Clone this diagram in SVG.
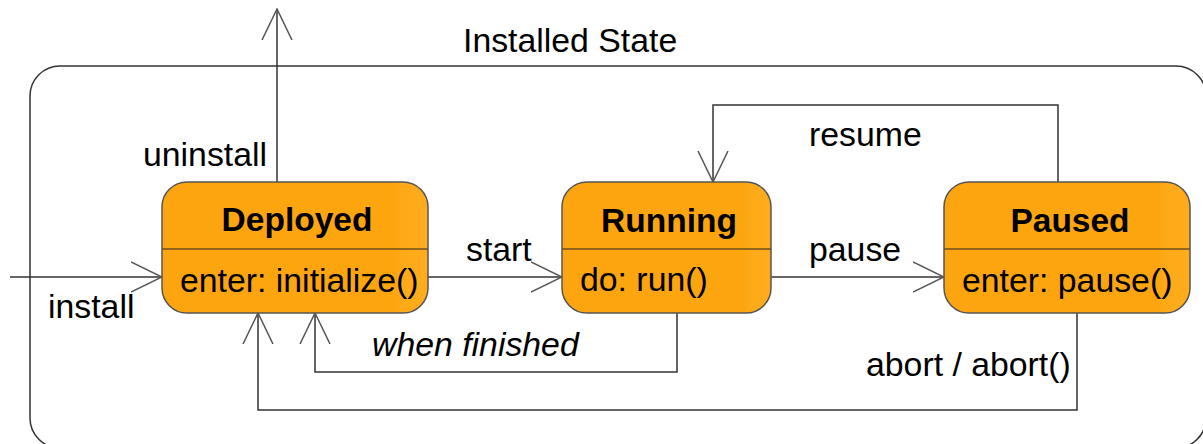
<svg xmlns="http://www.w3.org/2000/svg" width="1203" height="444" viewBox="0 0 1203 444">
  <defs>
    <linearGradient id="stateFill" x1="0" y1="0" x2="1" y2="0">
      <stop offset="0" stop-color="#FDA50F"/>
      <stop offset="0.87" stop-color="#FDA50F"/>
      <stop offset="0.9" stop-color="#FEA917"/>
      <stop offset="1" stop-color="#FEAC1E"/>
    </linearGradient>
    <marker id="open" viewBox="0 0 32 32" refX="31" refY="16" markerWidth="32" markerHeight="32" markerUnits="userSpaceOnUse" orient="auto">
      <path d="M0,1 L31,16 L0,31" fill="none" stroke="#555" stroke-width="1.5"/>
    </marker>
  </defs>
  <style>
    text { font-family: "Liberation Sans", Arial, sans-serif; font-size: 33.8px; fill: #000; }
    .title { font-weight: bold; text-anchor: middle; font-size: 33.5px; }
    .guard { font-style: italic; }
    .state { fill: url(#stateFill); stroke: #555; stroke-width: 1.5; }
    .divider { stroke: #6e4f1c; stroke-width: 1.5; }
    .edge { fill: none; stroke: #333; stroke-width: 1.5; marker-end: url(#open); }
    .frame { fill: none; stroke: #333; stroke-width: 1.5; }
  </style>
  <rect width="1203" height="444" fill="#fff"/>

  <!-- composite state frame -->
  <g id="installed-state">
    <rect class="frame" x="30" y="66" width="1176" height="382" rx="30" ry="30"/>
    <text x="463" y="52">Installed State</text>
  </g>

  <!-- transitions -->
  <g id="connectors">
    <path class="edge" d="M277,182 V9"/>
    <path class="edge" d="M10,277 H162"/>
    <path class="edge" d="M428,277 H562"/>
    <path class="edge" d="M771,277 H944"/>
    <path class="edge" d="M1058,182 V105 H713 V182"/>
    <path class="edge" d="M677,313 V372 H315 V313"/>
    <path class="edge" d="M1077,313 V410 H258 V313"/>
    <text x="143" y="166">uninstall</text>
    <text x="48" y="318">install</text>
    <text x="466" y="261">start</text>
    <text x="809" y="261">pause</text>
    <text x="809" y="146">resume</text>
    <text class="guard" x="372" y="356">when finished</text>
    <text x="866" y="376">abort / abort()</text>
  </g>

  <g id="deployed">
    <rect class="state" x="162" y="182" width="266" height="131" rx="25" ry="25"/>
    <line class="divider" x1="162" y1="249" x2="428" y2="249"/>
    <text class="title" x="297" y="231">Deployed</text>
    <text x="180" y="292">enter: initialize()</text>
  </g>

  <g id="running">
    <rect class="state" x="562" y="182" width="209" height="131" rx="25" ry="25"/>
    <line class="divider" x1="562" y1="249" x2="771" y2="249"/>
    <text class="title" x="669" y="232">Running</text>
    <text x="580" y="291">do: run()</text>
  </g>

  <g id="paused">
    <rect class="state" x="944" y="182" width="246" height="131" rx="25" ry="25"/>
    <line class="divider" x1="944" y1="249" x2="1190" y2="249"/>
    <text class="title" x="1070" y="232">Paused</text>
    <text x="962" y="292">enter: pause()</text>
  </g>
</svg>
